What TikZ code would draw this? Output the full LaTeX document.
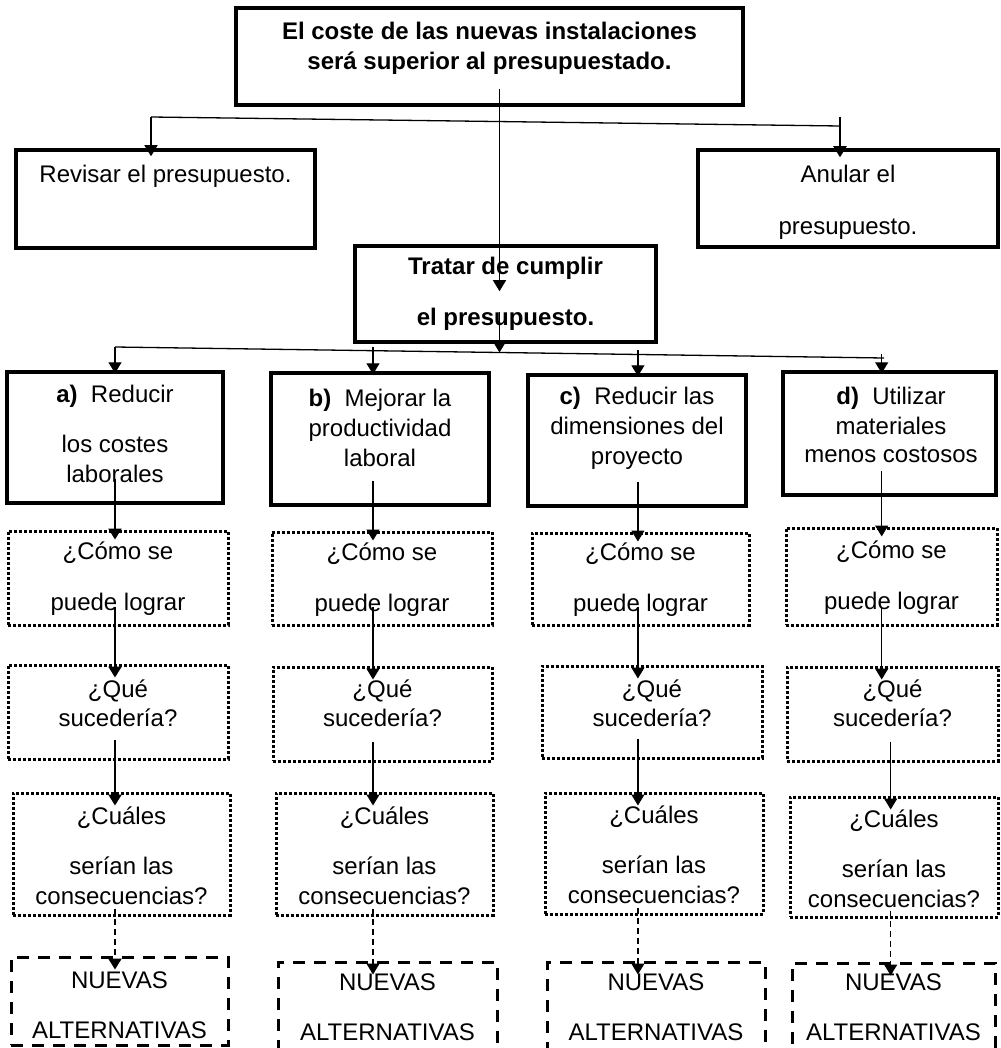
\documentclass[tikz,border=0pt]{standalone}
\usepackage{fontspec}
\setmainfont{Liberation Sans}
\usetikzlibrary{arrows.meta,calc,positioning}

\tikzset{
  box/.style={draw, line width=3.5pt, inner sep=0pt},
  dotbox/.style={draw, line width=3pt, dash pattern=on 3pt off 2pt, inner sep=0pt},
  dashbox/.style={draw, line width=3pt, dash pattern=on 12pt off 9pt, inner sep=0pt},
  txt/.style={align=center, inner sep=0pt, font=\fontsize{24}{28}\selectfont},
  boldtxt/.style={txt, font=\fontsize{24}{28}\selectfont\bfseries},
  conn/.style={line width=1.3pt},
  arr/.style={conn, -{Triangle[width=13pt,length=11pt]}},
}

\begin{document}
\begin{tikzpicture}[x=1pt,y=-1pt]
        \useasboundingbox (0,0) rectangle (1000,1048);
        \clip (0,0) rectangle (1000,1048);
        \fill[white] (0,0) rectangle (1000,1048);
        % first level
        \node[box, minimum width=507pt, minimum height=97pt] (top) at (489.5,56.5) {};
        \node[boldtxt] (toptxt) at (489.5,48) {El coste de las nuevas instalaciones\\[2pt]será superior al presupuestado.};
        \node[box, minimum width=299pt, minimum height=98pt] (revisar) at (165.5,199) {};
        \node[txt] (revisartxt) at (165.5,176) {Revisar el presupuesto.};
        \node[box, minimum width=300pt, minimum height=97pt] (anular) at (848,198.5) {};
        \node[txt] (anulartxt) at (848,202) {Anular el\\[24pt]presupuesto.};
        \node[box, minimum width=301pt, minimum height=96pt] (tratar) at (505.5,294) {};
        \node[boldtxt] (tratartxt) at (505.5,294) {Tratar de cumplir\\[23pt]el presupuesto.};
        % the four ways
        \node[box, minimum width=216pt, minimum height=131pt] (a) at (115,437.5) {};
        \node[txt] (atxt) at (115,434) {\textbf{a)}\ \ Reducir\\[22pt]los costes\\[2pt]laborales};
        \node[box, minimum width=218pt, minimum height=132pt] (b) at (380,439) {};
        \node[txt] (btxt) at (380,428) {\textbf{b)}\ \ Mejorar la\\[2pt]productividad\\[2pt]laboral};
        \node[box, minimum width=218pt, minimum height=131pt] (c) at (637,440.5) {};
        \node[txt] (ctxt) at (637,428.5) {\textbf{c)}\ \ Reducir las\\[2pt]dimensiones del\\[2pt]proyecto};
        \node[box, minimum width=213pt, minimum height=123pt] (d) at (889.5,433.5) {};
        \node[txt] (dtxt) at (891,425) {\textbf{d)}\ \ Utilizar\\[2pt]materiales\\menos costosos};
        % questions
        \foreach \c/\x/\y/\w/\h in {a/118/578/220/94, b/382/578.5/220/93, c/640.5/579/217/92, d/891.5/576.5/211/97} {
          \node[dotbox, minimum width=\w pt, minimum height=\h pt] (como\c) at (\x,\y) {};
          \node[txt] (como\c txt) at (\x,\y+1) {¿Cómo se\\[23pt]puede lograr};
        }
        \foreach \c/\x/\y/\w/\h in {a/118/712/220/94, b/382.5/714/219/94, c/652/712/220/92, d/892.5/714/211/94} {
          \node[dotbox, minimum width=\w pt, minimum height=\h pt] (que\c) at (\x,\y) {};
          \node[txt] (que\c txt) at (\x,703) {¿Qué\\[1pt]sucedería?};
        }
        \foreach \c/\x/\y/\w/\h in {a/121.5/854/217/122, b/384.5/854/217/122, c/654/853.5/218/121, d/894/857/208/120} {
          \node[dotbox, minimum width=\w pt, minimum height=\h pt] (cual\c) at (\x,\y) {};
          \node[txt] (cual\c txt) at (\x,\y+1.5) {¿Cuáles\\[22pt]serían las\\[2pt]consecuencias?};
        }
        \foreach \c/\x/\y/\w/\h in {a/119.5/1001/217/88, b/387.5/1008.5/219/93, c/656/1008.5/218/93, d/893.5/1009/203/92} {
          \node[dashbox, minimum width=\w pt, minimum height=\h pt] (nuevas\c) at (\x,\y) {};
        }
        \node[txt] (nuevasatxt) at (119.5,1005) {NUEVAS\\[22pt]ALTERNATIVAS};
        \foreach \c/\x in {b/387.5, c/656, d/893.5}
          \node[txt] (nuevas\c txt) at (\x,1007) {NUEVAS\\[22pt]ALTERNATIVAS};
        % branches
        \coordinate (bl) at (151,117);
        \coordinate (br) at (840,126);
        \draw[conn] (bl) -- (br);
        \draw[arr, shorten >=-8pt] (bl) -- (bl |- revisar.north);
        \draw[arr, line width=2pt, shorten <=-9pt, shorten >=-9pt] (br) -- (br |- anular.north);
        \coordinate (ca) at (115,347);
        \coordinate (cz) at (884,358);
        \coordinate (cm) at ($(ca)!0.5!(cz)$);
        \coordinate (cb) at ($(ca)!0.3355!(cz)$);
        \coordinate (cc) at ($(ca)!0.68!(cz)$);
        \coordinate (cd) at ($(ca)!0.997!(cz)$);
        \coordinate (ce) at ($(cd)+(9,0)$);
        \draw[conn] (ca) -- (cz);
        \draw[arr, shorten <=-18pt, shorten >=-47pt] (top.south -| cm) -- (tratar.north -| cm);
        \draw[arr, shorten <=18pt] (tratar.center -| cm) -- (cm);
        \draw[arr, shorten >=-3pt] (ca) -- (a.north -| ca);
        \foreach \c in {b,c,d}
          \draw[arr, shorten <=-4pt, shorten >=-3pt] (c\c) -- (c\c |- \c.north);
        % down each column
        \foreach \c/\k/\lw in {a/ca/2.4pt, b/cb/1.3pt, c/cc/1.3pt, d/cd/1.3pt} {
          \draw[arr, line width=\lw, shorten <=-26pt, shorten >=-10pt] (\c.south -| \k) -- (como\c.north -| \k);
          \draw[arr, line width=\lw, shorten <=-20pt, shorten >=-14pt] (como\c.south -| \k) -- (que\c.north -| \k);
        }
        \foreach \c/\k/\lw in {a/ca/2.4pt, b/cb/1.3pt, c/cc/1.3pt, d/ce/1.3pt} {
          \draw[arr, line width=\lw, shorten <=-21pt, shorten >=-14pt] (que\c.south -| \k) -- (cual\c.north -| \k);
          \draw[arr, line width=\lw, dash pattern=on 6pt off 4pt, shorten <=-8pt, shorten >=-14pt] (cual\c.south -| \k) -- (nuevas\c.north -| \k);
        }
\end{tikzpicture}
\end{document}
